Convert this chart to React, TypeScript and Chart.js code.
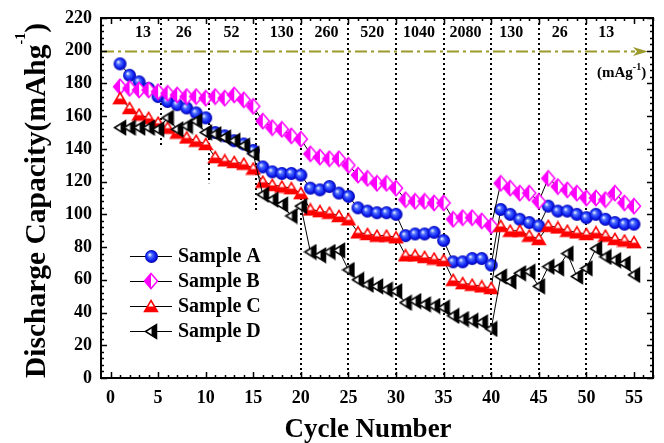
import React, { useEffect, useRef } from 'react';
import { Chart, registerables } from 'chart.js';

Chart.register(...registerables);

// ---------------- data ----------------
const cycles = [
  1, 2, 3, 4, 5, 6, 7, 8, 9, 10, 11, 12, 13, 14, 15, 16, 17, 18, 19, 20,
  21, 22, 23, 24, 25, 26, 27, 28, 29, 30, 31, 32, 33, 34, 35, 36, 37, 38, 39, 40,
  41, 42, 43, 44, 45, 46, 47, 48, 49, 50, 51, 52, 53, 54, 55,
];

const sampleA = [
  192, 185, 181, 177, 172, 169, 167, 165, 162, 159,
  150, 148, 145, 143, 139,
  129, 126, 125, 125, 124,
  116, 115, 117, 113, 111,
  104, 102, 101, 101, 100,
  87, 88, 88, 89, 84,
  71, 71, 73, 73, 69,
  103, 100, 97, 95, 93,
  105, 102, 102, 100, 98, 100, 97, 95, 94, 94,
];

const sampleB = [
  178, 177, 176, 176, 175, 174, 173, 172, 172, 171,
  172, 171, 173, 170, 166,
  157, 153, 152, 148, 146,
  137, 135, 134, 134, 130,
  124, 122, 119, 119, 116,
  109, 108, 108, 107, 107,
  97, 98, 98, 96, 93,
  119, 116, 113, 113, 108,
  122, 117, 115, 113, 110, 110, 109, 113, 107, 105,
];

const sampleC = [
  171, 165, 161, 159, 156, 153, 150, 147, 145, 143,
  135, 133, 132, 131, 128,
  120, 118, 117, 116, 113,
  103, 102, 101, 99, 97,
  89, 88, 87, 87, 86,
  75, 75, 74, 73, 72,
  60, 58, 57, 56, 55,
  93, 90, 90, 87, 85,
  93, 92, 90, 89, 88, 89, 87, 85, 84, 83,
];

const sampleD = [
  153, 153, 153, 153, 152, 159, 152, 154, 157, 150,
  149, 147, 145, 142, 137,
  112, 109, 106, 99, 105,
  77, 75, 77, 78, 66,
  60, 57, 56, 54, 53,
  46, 47, 45, 44, 43,
  38, 36, 35, 34, 30,
  62, 59, 64, 65, 56,
  68, 67, 76, 62, 67, 79, 74, 72, 70, 63,
];

const seriesNames = ['Sample A', 'Sample B', 'Sample C', 'Sample D'];

const xTickValues = [0, 5, 10, 15, 20, 25, 30, 35, 40, 45, 50, 55];
const yTickValues = [0, 20, 40, 60, 80, 100, 120, 140, 160, 180, 200, 220];

const rateLabels = ['13', '26', '52', '130', '260', '520', '1040', '2080', '130', '26', '13'];
const rateLabelX = [3.4, 7.7, 12.7, 18.0, 22.7, 27.5, 32.4, 37.3, 42.1, 47.2, 52.1];
const rateLabelY = 210.8;

const dividerX = [5.3, 10.3, 15.3, 20, 25, 30, 35, 40, 45, 50];
const dividerEnd = [142, 119, 101, 0, 0, 0, 0, 0, 0, 0];

const refLevel = 200;

const X_MIN = -1;
const X_MAX = 57;
const Y_MIN = 0;
const Y_MAX = 220;

// ---------------- styles ----------------
const FONT = '"Liberation Serif", "Times New Roman", serif';
const OLIVE = '#9c9a2c';

function makeCanvas(w: number, h: number) {
  const c = document.createElement('canvas');
  c.width = w;
  c.height = h;
  return c;
}

function makeSphere(r: number) {
  const s = Math.ceil(2 * r + 2);
  const c = makeCanvas(s, s);
  const g = c.getContext('2d')!;
  const cx = s / 2;
  const grad = g.createRadialGradient(cx - r * 0.3, cx - r * 0.3, r * 0.05, cx, cx, r);
  grad.addColorStop(0, '#f0f4ff');
  grad.addColorStop(0.3, '#4a6cff');
  grad.addColorStop(0.7, '#1020f0');
  grad.addColorStop(1, '#0000a8');
  g.fillStyle = grad;
  g.beginPath();
  g.arc(cx, cx, r, 0, Math.PI * 2);
  g.fill();
  return c;
}

function makeDiamond(hw: number, hh: number) {
  const w = Math.ceil(2 * hw + 3);
  const h = Math.ceil(2 * hh + 3);
  const c = makeCanvas(w, h);
  const g = c.getContext('2d')!;
  const cx = w / 2;
  const cy = h / 2;
  g.beginPath();
  g.moveTo(cx, cy - hh);
  g.lineTo(cx + hw, cy);
  g.lineTo(cx, cy + hh);
  g.lineTo(cx - hw, cy);
  g.closePath();
  g.fillStyle = '#ffffff';
  g.fill();
  g.beginPath();
  g.moveTo(cx, cy - hh);
  g.lineTo(cx, cy + hh);
  g.lineTo(cx - hw, cy);
  g.closePath();
  g.fillStyle = '#ff00ff';
  g.fill();
  g.beginPath();
  g.moveTo(cx, cy - hh);
  g.lineTo(cx + hw, cy);
  g.lineTo(cx, cy + hh);
  g.lineTo(cx - hw, cy);
  g.closePath();
  g.strokeStyle = '#ff00ff';
  g.lineWidth = 1.5;
  g.stroke();
  return c;
}

function makeTriUp(hw: number, th: number) {
  const w = Math.ceil(2 * hw + 3);
  const h = Math.ceil(th + 3);
  const c = makeCanvas(w, h);
  const g = c.getContext('2d')!;
  const cx = w / 2;
  const top = 1.5;
  const bot = 1.5 + th;
  g.beginPath();
  g.moveTo(cx, top);
  g.lineTo(cx + hw, bot);
  g.lineTo(cx - hw, bot);
  g.closePath();
  g.fillStyle = '#ffffff';
  g.fill();
  const f = 0.55;
  const yb = top + th * f;
  const dx = hw * f;
  g.beginPath();
  g.moveTo(cx - dx, yb);
  g.lineTo(cx + dx, yb);
  g.lineTo(cx + hw, bot);
  g.lineTo(cx - hw, bot);
  g.closePath();
  g.fillStyle = '#ff0000';
  g.fill();
  g.beginPath();
  g.moveTo(cx, top);
  g.lineTo(cx + hw, bot);
  g.lineTo(cx - hw, bot);
  g.closePath();
  g.strokeStyle = '#ff0000';
  g.lineWidth = 1.5;
  g.stroke();
  return c;
}

function makeTriLeft(tw: number, hh: number) {
  const w = Math.ceil(tw + 3);
  const h = Math.ceil(2 * hh + 3);
  const c = makeCanvas(w, h);
  const g = c.getContext('2d')!;
  const cy = h / 2;
  const left = 1.5;
  const right = 1.5 + tw;
  g.beginPath();
  g.moveTo(left, cy);
  g.lineTo(right, cy - hh);
  g.lineTo(right, cy + hh);
  g.closePath();
  g.fillStyle = '#ffffff';
  g.fill();
  const f = 0.55;
  const xm = left + tw * f;
  const dy = hh * f;
  g.beginPath();
  g.moveTo(xm, cy - dy);
  g.lineTo(right, cy - hh);
  g.lineTo(right, cy + hh);
  g.lineTo(xm, cy + dy);
  g.closePath();
  g.fillStyle = '#000000';
  g.fill();
  g.beginPath();
  g.moveTo(left, cy);
  g.lineTo(right, cy - hh);
  g.lineTo(right, cy + hh);
  g.closePath();
  g.strokeStyle = '#000000';
  g.lineWidth = 1.5;
  g.stroke();
  return c;
}

export default function App() {
  const ref = useRef<HTMLCanvasElement | null>(null);

  useEffect(() => {
    const canvas = ref.current;
    if (!canvas) return;

    const markers = [
      makeSphere(6.5),
      makeDiamond(6.5, 7.5),
      makeTriUp(6.5, 11),
      makeTriLeft(11, 7),
    ];
    const values = [sampleA, sampleB, sampleC, sampleD];

    const decor = {
      id: 'decor',
      beforeDatasetsDraw(chart: any) {
        const { ctx, chartArea: a, scales } = chart;
        const x = scales.x;
        const y = scales.y;
        ctx.save();
        // dotted dividers
        ctx.strokeStyle = '#000';
        ctx.lineWidth = 2;
        ctx.setLineDash([2, 3]);
        dividerX.forEach((v, i) => {
          const px = Math.round(x.getPixelForValue(v));
          ctx.beginPath();
          ctx.moveTo(px, a.top);
          ctx.lineTo(px, y.getPixelForValue(dividerEnd[i]));
          ctx.stroke();
        });
        // reference dash-dot arrow
        const ay = Math.round(y.getPixelForValue(refLevel)) + 0.5;
        ctx.strokeStyle = OLIVE;
        ctx.lineWidth = 2;
        ctx.setLineDash([12, 4, 3, 4]);
        ctx.beginPath();
        ctx.moveTo(a.left + 1, ay);
        ctx.lineTo(a.right - 18, ay);
        ctx.stroke();
        ctx.setLineDash([]);
        ctx.fillStyle = OLIVE;
        ctx.beginPath();
        ctx.moveTo(a.right - 5, ay);
        ctx.lineTo(a.right - 20, ay - 4.5);
        ctx.lineTo(a.right - 16, ay);
        ctx.lineTo(a.right - 20, ay + 4.5);
        ctx.closePath();
        ctx.fill();
        // current density labels
        ctx.fillStyle = '#000';
        ctx.font = `bold 16px ${FONT}`;
        ctx.textAlign = 'center';
        ctx.textBaseline = 'middle';
        rateLabels.forEach((t, i) => {
          ctx.fillText(t, x.getPixelForValue(rateLabelX[i]), y.getPixelForValue(rateLabelY));
        });
        // unit label (mAg-1)
        ctx.textAlign = 'left';
        ctx.textBaseline = 'alphabetic';
        let ux = 597;
        const uy = 77;
        ctx.font = `bold 15px ${FONT}`;
        ctx.fillText('(mAg', ux, uy);
        ux += ctx.measureText('(mAg').width;
        ctx.font = `bold 10px ${FONT}`;
        ctx.fillText('-1', ux, uy - 7);
        ux += ctx.measureText('-1').width;
        ctx.font = `bold 15px ${FONT}`;
        ctx.fillText(')', ux, uy);
        ctx.restore();
      },
      afterDatasetsDraw(chart: any) {
        const { ctx, chartArea: a, scales } = chart;
        const x = scales.x;
        const y = scales.y;
        ctx.save();
        ctx.setLineDash([]);
        ctx.strokeStyle = '#000';
        ctx.lineWidth = 2;
        ctx.strokeRect(a.left, a.top, a.right - a.left, a.bottom - a.top);
        ctx.lineWidth = 1.5;
        // x ticks
        for (let v = 0; v <= X_MAX; v += 1) {
          const px = Math.round(x.getPixelForValue(v)) + 0.5;
          const len = v % 5 === 0 ? 6 : 3;
          ctx.beginPath();
          ctx.moveTo(px, a.bottom);
          ctx.lineTo(px, a.bottom - len);
          ctx.moveTo(px, a.top);
          ctx.lineTo(px, a.top + len);
          ctx.stroke();
        }
        // y ticks
        for (let v = Y_MIN; v <= Y_MAX; v += 4) {
          const py = Math.round(y.getPixelForValue(v)) + 0.5;
          const len = v % 20 === 0 ? 6 : 3;
          ctx.beginPath();
          ctx.moveTo(a.left, py);
          ctx.lineTo(a.left + len, py);
          ctx.moveTo(a.right, py);
          ctx.lineTo(a.right - len, py);
          ctx.stroke();
        }
        // tick labels
        ctx.fillStyle = '#000';
        ctx.font = `bold 18px ${FONT}`;
        ctx.textAlign = 'center';
        ctx.textBaseline = 'middle';
        xTickValues.forEach((v) => {
          ctx.fillText(String(v), x.getPixelForValue(v), a.bottom + 20);
        });
        ctx.textAlign = 'right';
        yTickValues.forEach((v) => {
          ctx.fillText(String(v), a.left - 9, y.getPixelForValue(v));
        });
        // x title
        ctx.textAlign = 'center';
        ctx.textBaseline = 'alphabetic';
        ctx.font = `bold 27px ${FONT}`;
        ctx.fillText('Cycle Number', 368, 437);
        // y title
        ctx.save();
        ctx.translate(45, a.bottom);
        ctx.rotate(-Math.PI / 2);
        ctx.textAlign = 'left';
        ctx.textBaseline = 'alphabetic';
        ctx.font = `bold 29.5px ${FONT}`;
        const main = 'Discharge Capacity(mAhg';
        ctx.fillText(main, 0, 0);
        let tx = ctx.measureText(main).width;
        ctx.font = `bold 14px ${FONT}`;
        ctx.fillText('-1', tx, -20);
        tx += ctx.measureText('-1').width;
        ctx.font = `bold 29.5px ${FONT}`;
        ctx.fillText(')', tx, 0);
        ctx.restore();
        // legend
        const rows = [256, 281, 306, 331];
        ctx.font = `bold 20px ${FONT}`;
        ctx.textAlign = 'left';
        ctx.textBaseline = 'middle';
        rows.forEach((ry, i) => {
          ctx.strokeStyle = '#000';
          ctx.lineWidth = 1;
          ctx.beginPath();
          ctx.moveTo(130, ry + 0.5);
          ctx.lineTo(172, ry + 0.5);
          ctx.stroke();
          const m = markers[i];
          ctx.drawImage(m, Math.round(151 - m.width / 2), Math.round(ry - m.height / 2));
          ctx.fillStyle = '#000';
          ctx.fillText(seriesNames[i], 178, ry + 1);
        });
        ctx.restore();
      },
    };

    const chart = new Chart(canvas, {
      type: 'line',
      data: {
        datasets: values.map((vals, i) => ({
          label: seriesNames[i],
          data: cycles.map((c, j) => ({ x: c, y: vals[j] })),
          borderColor: '#000',
          borderWidth: 1,
          pointStyle: markers[i] as any,
          pointRadius: 6,
          pointHoverRadius: 6,
          fill: false,
          tension: 0,
          order: 3 - i,
        })),
      },
      options: {
        responsive: false,
        animation: false,
        devicePixelRatio: 1,
        events: [],
        layout: { padding: { left: 101, right: 11, top: 18, bottom: 65 } },
        scales: {
          x: { type: 'linear', min: X_MIN, max: X_MAX, display: false },
          y: { type: 'linear', min: Y_MIN, max: Y_MAX, display: false },
        },
        plugins: {
          legend: { display: false },
          tooltip: { enabled: false },
        },
      },
      plugins: [decor],
    });

    return () => chart.destroy();
  }, []);

  return (
    <div style={{ position: 'absolute', left: 0, top: 0, width: 664, height: 443, background: '#fff' }}>
      <canvas ref={ref} width={664} height={443} style={{ display: 'block' }} />
    </div>
  );
}
